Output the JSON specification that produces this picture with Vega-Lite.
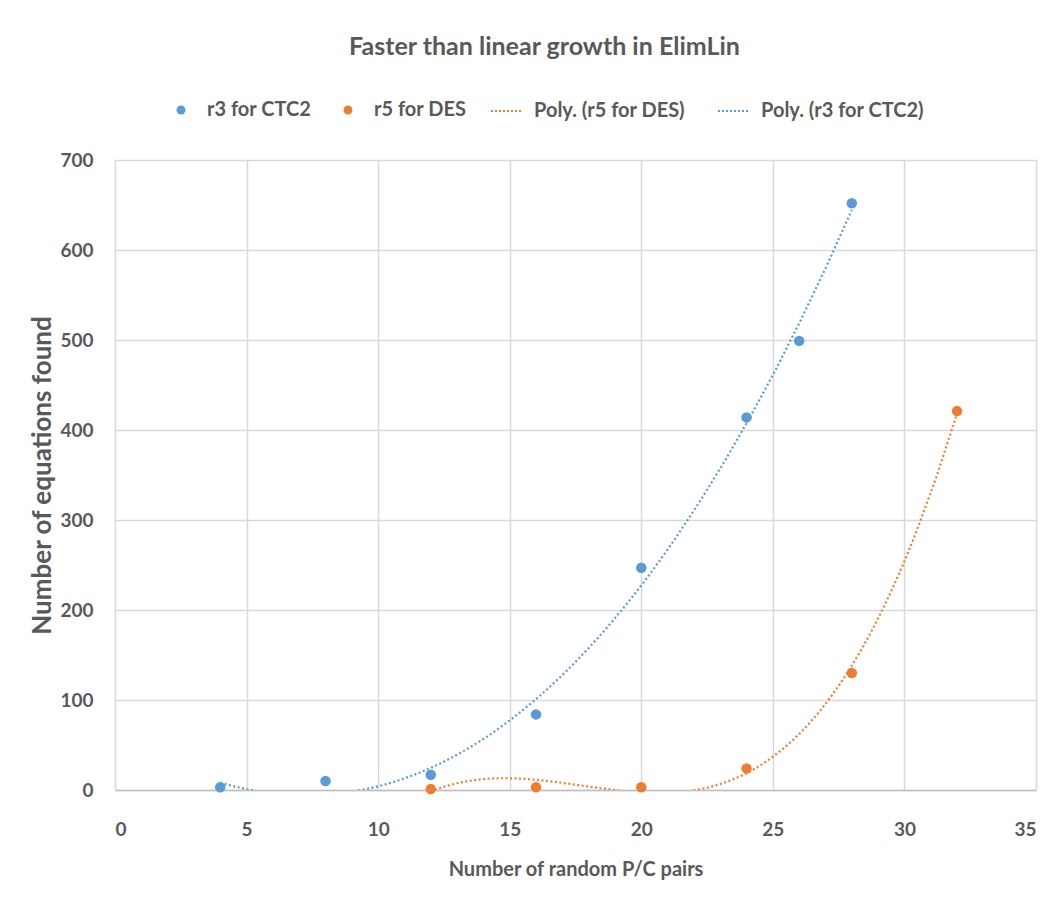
{
  "$schema": "https://vega.github.io/schema/vega-lite/v6.json",
  "width": 921,
  "height": 630,
  "autosize": {"type": "none"},
  "padding": {"left": 115, "top": 160, "right": 25, "bottom": 115},
  "background": "white",
  "title": {
    "text": "Faster than linear growth in ElimLin",
    "fontSize": 25,
    "font": "Lato",
    "fontWeight": "bold",
    "color": "#595959",
    "anchor": "middle",
    "frame": "group",
    "dx": -31,
    "offset": 35
  },
  "config": {
    "font": "Lato",
    "view": {"stroke": null},
    "axis": {
      "labelFont": "Lato",
      "titleFont": "Lato",
      "labelColor": "#595959",
      "titleColor": "#595959",
      "labelFontSize": 19,
      "titleFontSize": 20,
      "labelFontWeight": "bold",
      "titleFontWeight": "bold",
      "gridColor": "#d9d9d9",
      "gridWidth": 1.5,
      "ticks": false
    },
    "legend": {
      "labelFont": "Lato",
      "labelColor": "#595959",
      "labelFontSize": 20,
      "labelFontWeight": "bold",
      "labelLimit": 400
    }
  },
  "data": {
    "values": [
      {"x": 4, "y": 3, "series": "r3 for CTC2"},
      {"x": 8, "y": 10, "series": "r3 for CTC2"},
      {"x": 12, "y": 17, "series": "r3 for CTC2"},
      {"x": 16, "y": 84, "series": "r3 for CTC2"},
      {"x": 20, "y": 247, "series": "r3 for CTC2"},
      {"x": 24, "y": 414, "series": "r3 for CTC2"},
      {"x": 26, "y": 499, "series": "r3 for CTC2"},
      {"x": 28, "y": 652, "series": "r3 for CTC2"},
      {"x": 12, "y": 1, "series": "r5 for DES"},
      {"x": 16, "y": 3, "series": "r5 for DES"},
      {"x": 20, "y": 3, "series": "r5 for DES"},
      {"x": 24, "y": 24, "series": "r5 for DES"},
      {"x": 28, "y": 130, "series": "r5 for DES"},
      {"x": 32, "y": 421, "series": "r5 for DES"}
    ]
  },
  "layer": [
    {
      "transform": [
        {"filter": "datum.series === 'r3 for CTC2'"},
        {"regression": "y", "on": "x", "method": "poly", "order": 3}
      ],
      "mark": {"type": "line", "clip": true, "strokeWidth": 2.2, "strokeDash": [2, 2.5]},
      "encoding": {
        "x": {"field": "x", "type": "quantitative"},
        "y": {"field": "y", "type": "quantitative"},
        "stroke": {"datum": "Poly.  (r3 for CTC2)", "type": "nominal",
          "scale": {"domain": ["Poly.  (r5 for DES)", "Poly.  (r3 for CTC2)"], "range": ["#ED7D31", "#5B9BD5"]},
          "legend": {"orient": "none", "direction": "horizontal", "legendX": 375, "legendY": -65, "title": null,
            "symbolType": "stroke", "symbolStrokeWidth": 2, "symbolDash": [2, 2], "symbolSize": 900, "columnPadding": 24, "labelOffset": 12}}
      }
    },
    {
      "transform": [
        {"filter": "datum.series === 'r5 for DES'"},
        {"regression": "y", "on": "x", "method": "poly", "order": 3}
      ],
      "mark": {"type": "line", "clip": true, "strokeWidth": 2.2, "strokeDash": [2, 2.5]},
      "encoding": {
        "x": {"field": "x", "type": "quantitative"},
        "y": {"field": "y", "type": "quantitative"},
        "stroke": {"datum": "Poly.  (r5 for DES)", "type": "nominal"}
      }
    },
    {
      "mark": {"type": "circle", "size": 110, "opacity": 1},
      "encoding": {
        "x": {"field": "x", "type": "quantitative",
          "scale": {"domain": [0, 35], "nice": false},
          "axis": {"values": [0, 5, 10, 15, 20, 25, 30, 35], "title": "Number of random P/C pairs", "labelPadding": 30, "titlePadding": 20, "domainColor": "#bfbfbf", "domainWidth": 1.5}},
        "y": {"field": "y", "type": "quantitative",
          "scale": {"domain": [0, 700], "nice": false},
          "axis": {"values": [0, 100, 200, 300, 400, 500, 600, 700], "title": "Number of equations found", "titleFontSize": 26, "labelPadding": 22, "titlePadding": 4, "domain": false}},
        "fill": {"field": "series", "type": "nominal",
          "scale": {"domain": ["r3 for CTC2", "r5 for DES"], "range": ["#5B9BD5", "#ED7D31"]},
          "legend": {"orient": "none", "direction": "horizontal", "legendX": 56, "legendY": -60, "title": null,
            "symbolType": "circle", "symbolSize": 80, "symbolOpacity": 1, "columnPadding": 26, "labelOffset": 16}}
      }
    }
  ]
}
